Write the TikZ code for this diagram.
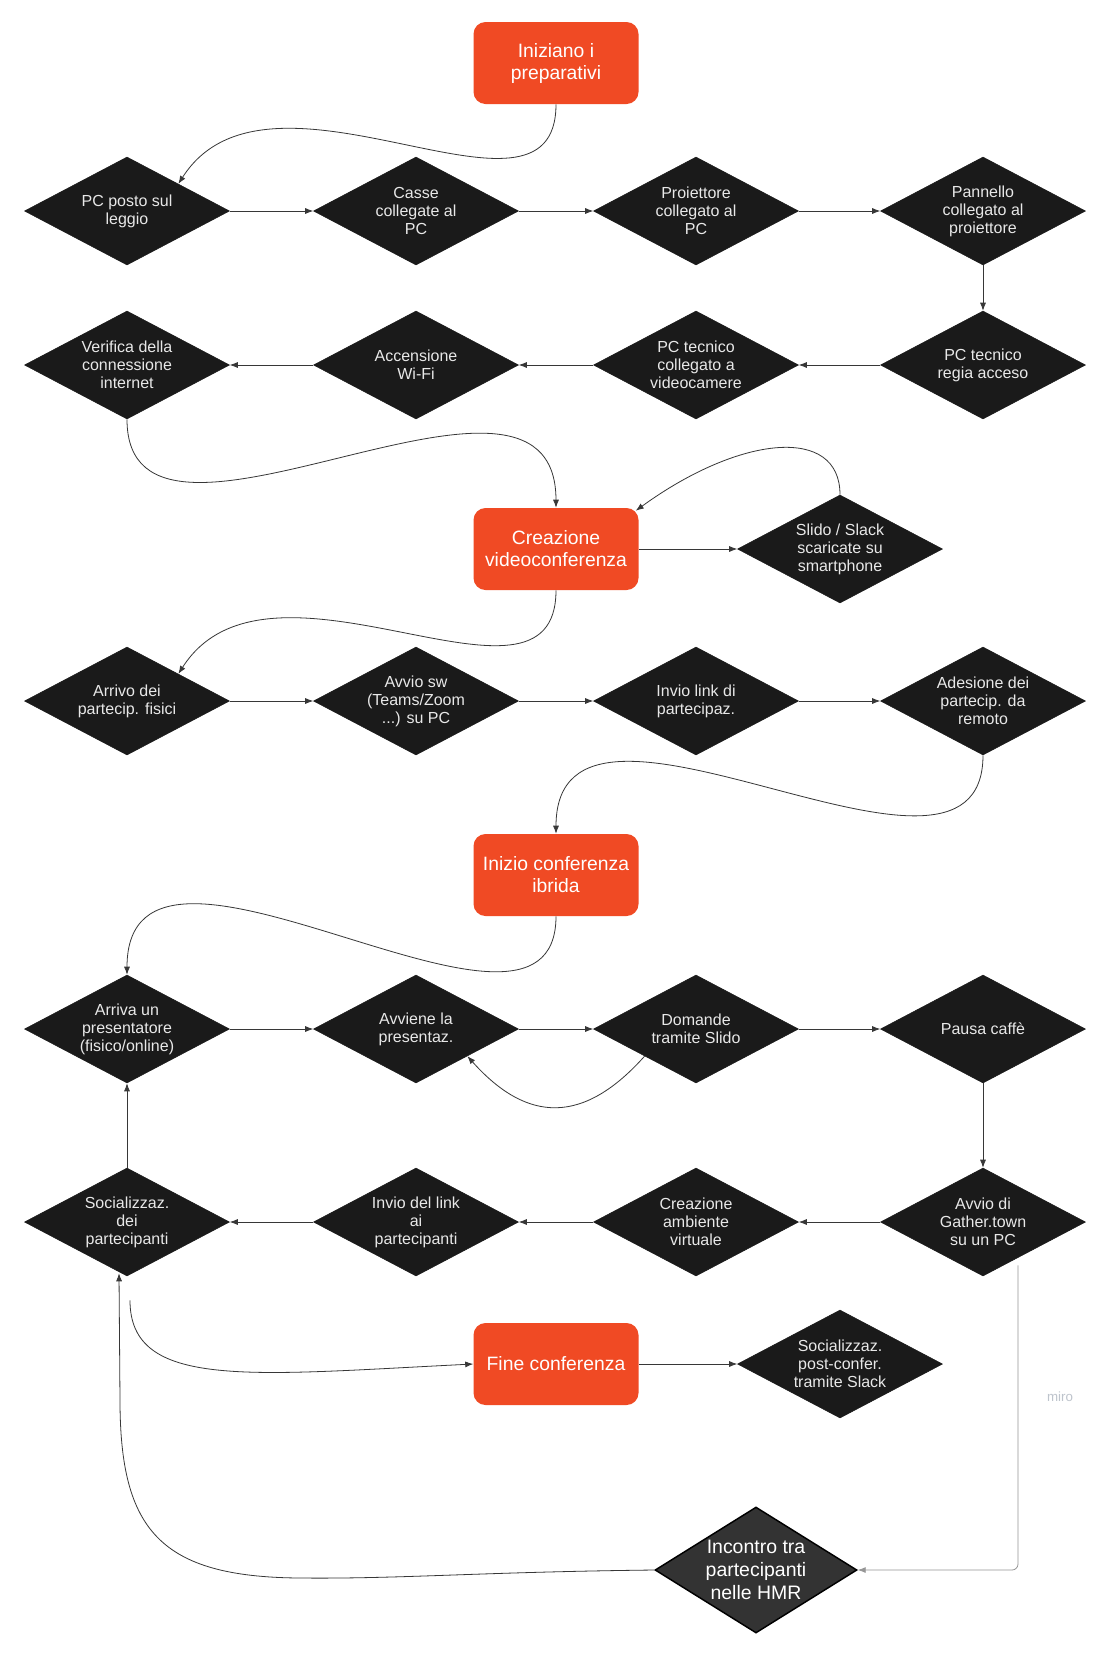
\documentclass[tikz,border=0pt]{standalone}
\usepackage{fontspec}
\setmainfont{Liberation Sans}
\usetikzlibrary{shapes.geometric,arrows.meta,calc}
\definecolor{redbox}{RGB}{240,74,36}
\definecolor{dfill}{RGB}{26,26,26}
\definecolor{dtext}{RGB}{232,232,232}
\definecolor{conn}{RGB}{55,55,55}
\definecolor{hmrfill}{RGB}{51,51,51}
\definecolor{lgray}{RGB}{150,150,150}
\definecolor{mirogray}{RGB}{190,196,204}
\begin{document}
\begin{tikzpicture}[x=0.75pt,y=-0.75pt,
  dia/.style={diamond, fill=dfill, draw=dfill, minimum width=153.75pt, minimum height=81pt, inner sep=0pt},
  dtxt/.style={text=dtext, font=\fontsize{12}{13.5}\selectfont, align=center},
  hmrdia/.style={diamond, fill=hmrfill, draw=black, line width=1.1pt, minimum width=151.5pt, minimum height=94.5pt, inner sep=0pt},
  htxt/.style={text=white, font=\fontsize{14.6}{17.25}\selectfont, align=center},
  rbox/.style={rectangle, rounded corners=9pt, fill=redbox, minimum width=123.75pt, minimum height=61.5pt, text=white, font=\fontsize{14.5}{16.5}\selectfont, align=center, inner sep=0pt},
  arr/.style={draw=conn, line width=0.6pt, -{Latex[length=6pt,width=4.5pt]}}
]
\fill[white] (0,0) rectangle (1104,1653);
\useasboundingbox (0,0) rectangle (1104,1653);

% red boxes
\node[rbox] (start) at (556,63) {Iniziano i\\preparativi};
\node[rbox] (crea) at (556,549) {Creazione\\videoconferenza};
\node[rbox] (ibrida) at (556,875) {Inizio conferenza\\ibrida};
\node[rbox] (fine) at (556,1364) {Fine conferenza};

% row 1
\node[dia, label={[dtxt]center:PC posto sul\\leggio}] (d11) at (127,211) {};
\node[dia, label={[dtxt]center:Casse\\collegate al\\PC}] (d12) at (416,211) {};
\node[dia, label={[dtxt]center:Proiettore\\collegato al\\PC}] (d13) at (696,211) {};
\node[dia, label={[dtxt]center:Pannello\\collegato al\\proiettore}] (d14) at (983,211) {};
% row 2
\node[dia, label={[dtxt]center:Verifica della\\connessione\\internet}] (d21) at (127,365) {};
\node[dia, label={[dtxt]center:Accensione\\Wi-Fi}] (d22) at (416,365) {};
\node[dia, label={[dtxt]center:PC tecnico\\collegato a\\videocamere}] (d23) at (696,365) {};
\node[dia, label={[dtxt]center:PC tecnico\\regia acceso}] (d24) at (983,365) {};
% slido
\node[dia, label={[dtxt]center:Slido / Slack\\scaricate su\\smartphone}] (slido) at (840,549) {};
% row 3
\node[dia, label={[dtxt]center:Arrivo dei\\partecip. fisici}] (d31) at (127,701) {};
\node[dia, label={[dtxt]center:Avvio sw\\(Teams/Zoom\\...) su PC}] (d32) at (416,701) {};
\node[dia, label={[dtxt]center:Invio link di\\partecipaz.}] (d33) at (696,701) {};
\node[dia, label={[dtxt]center:Adesione dei\\partecip. da\\remoto}] (d34) at (983,701) {};
% row 4
\node[dia, label={[dtxt]center:Arriva un\\presentatore\\(fisico/online)}] (d41) at (127,1029) {};
\node[dia, label={[dtxt]center:Avviene la\\presentaz.}] (d42) at (416,1029) {};
\node[dia, label={[dtxt]center:Domande\\tramite Slido}] (d43) at (696,1029) {};
\node[dia, label={[dtxt]center:Pausa caffè}] (d44) at (983,1029) {};
% row 5
\node[dia, label={[dtxt]center:Socializzaz.\\dei\\partecipanti}] (d51) at (127,1222) {};
\node[dia, label={[dtxt]center:Invio del link\\ai\\partecipanti}] (d52) at (416,1222) {};
\node[dia, label={[dtxt]center:Creazione\\ambiente\\virtuale}] (d53) at (696,1222) {};
\node[dia, label={[dtxt]center:Avvio di\\Gather.town\\su un PC}] (d54) at (983,1222) {};
% post
\node[dia, label={[dtxt]center:Socializzaz.\\post-confer.\\tramite Slack}] (post) at (840,1364) {};
% HMR
\node[hmrdia, label={[htxt]center:Incontro tra\\partecipanti\\nelle HMR}] (hmr) at (756,1570) {};

\node[font=\fontsize{10}{12}\selectfont, text=mirogray] (miro) at (1060,1397) {miro};

% connectors
\draw[arr] (start.south) .. controls (556,250) and (270,40) .. (d11.north east);
\draw[arr] (d11.east) -- (d12.west);
\draw[arr] (d12.east) -- (d13.west);
\draw[arr] (d13.east) -- (d14.west);
\draw[arr] (d14.south) -- (d24.north);
\draw[arr] (d24.west) -- (d23.east);
\draw[arr] (d23.west) -- (d22.east);
\draw[arr] (d22.west) -- (d21.east);
\draw[arr] (d21.south) .. controls (127,602) and (556,311) .. (crea.north);
\draw[arr] (crea.east) -- (slido.west);
\draw[arr] (slido.north) .. controls (840,425) and (740,435) .. ($(crea.north east)+(-3,3)$);
\draw[arr] (crea.south) .. controls (556,737) and (270,530) .. (d31.north east);
\draw[arr] (d31.east) -- (d32.west);
\draw[arr] (d32.east) -- (d33.west);
\draw[arr] (d33.east) -- (d34.west);
\draw[arr] (d34.south) .. controls (983,935) and (556,639) .. (ibrida.north);
\draw[arr] (ibrida.south) .. controls (556,1092) and (127,777) .. (d41.north);
\draw[arr] (d41.east) -- (d42.west);
\draw[arr] (d42.east) -- (d43.west);
\draw[arr] (d43.east) -- (d44.west);
\draw[arr] (d43.south west) .. controls (584,1124) and (528,1124) .. (d42.south east);
\draw[arr] (d44.south) -- (d54.north);
\draw[arr] (d54.west) -- (d53.east);
\draw[arr] (d53.west) -- (d52.east);
\draw[arr] (d52.west) -- (d51.east);
\draw[arr] (d51.north) -- (d41.south);
\draw[arr] ($(d51.south)+(3,24)$) .. controls (130,1390) and (250,1375) .. (fine.west);
\draw[arr] (fine.east) -- (post.west);
\draw[arr, draw=lgray, rounded corners=4.5pt] ($(d54.south)+(35,-11)$) |- (hmr.east);
\draw[arr] (hmr.west) .. controls (480,1572) and (400,1579) .. (300,1578) .. controls (160,1577) and (120,1530) .. (120,1400) -- ($(d51.south)+(-8,-3)$);
\end{tikzpicture}
\end{document}
